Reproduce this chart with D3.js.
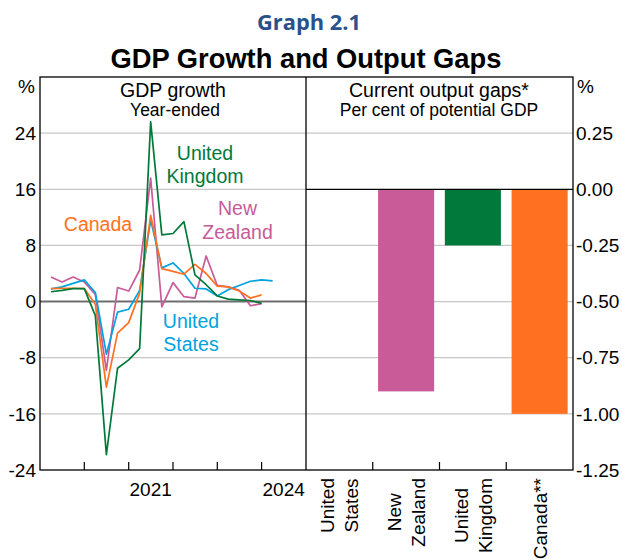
<!DOCTYPE html>
<html><head><meta charset="utf-8">
<script src="https://cdn.jsdelivr.net/npm/d3@7"></script>
<style>body{margin:0;background:#fff} svg{display:block} text{font-family:"Liberation Sans",Arial,sans-serif;fill:#000}</style>
</head><body><svg id="c" width="622" height="560"></svg>
<script>
// ---- data ----
const quarters = ["2019-Q1","2019-Q2","2019-Q3","2019-Q4","2020-Q1","2020-Q2","2020-Q3","2020-Q4",
  "2021-Q1","2021-Q2","2021-Q3","2021-Q4","2022-Q1","2022-Q2","2022-Q3","2022-Q4",
  "2023-Q1","2023-Q2","2023-Q3","2023-Q4","2024-Q1"];
const usGrowth = [1.8, 2.1, 2.6, 3.1, 1.3, -7.5, -1.5, -1.1, 1.6, 11.6, 4.8, 5.5, 4.0, 1.9, 1.8, 0.8, 1.7, 2.3, 2.9, 3.1, 2.95];
const canadaGrowth = [1.85, 1.9, 1.9, 1.85, -0.4, -12.2, -4.5, -3.0, 1.2, 12.3, 4.7, 4.3, 3.9, 5.3, 4.0, 2.2, 2.1, 1.5, 0.5, 0.95, null];
const nzGrowth = [3.5, 2.8, 3.5, 2.8, 1.0, -9.8, 2.0, 1.5, 4.5, 17.6, -0.75, 2.7, 0.7, 0.5, 6.5, 2.3, 2.1, 1.6, -0.6, -0.3, null];
const ukGrowth = [1.4, 1.6, 1.85, 1.85, -2.0, -21.8, -9.5, -8.3, -6.7, 25.6, 9.5, 9.7, 11.4, 3.8, 2.4, 0.8, 0.35, 0.25, 0.15, -0.25, null];
const gapCategories = ["United States", "New Zealand", "United Kingdom", "Canada**"];
const gapValues = [0, -0.9, -0.25, -1.0];
const leftTicks = [24, 16, 8, 0, -8, -16, -24];
const rightTicks = [0.25, 0, -0.25, -0.5, -0.75, -1, -1.25];
const yearLabels = [2021, 2024];

const colors = {us:"#00a3e0", canada:"#ff7121", nz:"#c95b98", uk:"#00793a"};

// ---- layout ----
const svg = d3.select("#c");
const plotTop = 77, plotBottom = 470, lx0 = 40, mid = 306, rx1 = 573;
const x = d3.scaleTime().domain([new Date(2019,0,1), new Date(2025,0,1)]).range([lx0, mid]);
const yL = d3.scaleLinear().domain([-24, 32]).range([plotBottom, plotTop]);
const yR = d3.scaleLinear().domain([-1.25, 0.5]).range([plotBottom, plotTop]);
const xb = d3.scaleBand().domain(gapCategories).range([mid, rx1]).paddingInner(0.16).paddingOuter(0.08);

function qDate(q){ const [y, n] = q.split("-Q"); return new Date(+y, (+n)*3, 1); }

// titles
svg.append("text").attr("x", 309).attr("y", 29.5).attr("text-anchor","middle")
  .style("font-family","'Open Sans',sans-serif").style("font-weight","bold").style("font-size","20.5px")
  .attr("textLength", 104).attr("lengthAdjust","spacingAndGlyphs")
  .style("fill","#2a5189").text("Graph 2.1");
svg.append("text").attr("x", 306).attr("y", 68).attr("text-anchor","middle")
  .style("font-weight","bold").style("font-size","27.3px").text("GDP Growth and Output Gaps");

// gridlines
const grid = svg.append("g");
leftTicks.filter(v => v !== 0 && v !== -24).forEach(v => {
  grid.append("line").attr("x1", lx0).attr("x2", mid).attr("y1", yL(v)).attr("y2", yL(v))
    .attr("stroke","#c8c8c8").attr("stroke-width",1.2);
});
rightTicks.filter(v => v !== 0 && v !== -1.25).forEach(v => {
  grid.append("line").attr("x1", mid).attr("x2", rx1).attr("y1", yR(v)).attr("y2", yR(v))
    .attr("stroke","#c8c8c8").attr("stroke-width",1.2);
});

// bars
const barColor = {"United States":colors.us, "New Zealand":colors.nz, "United Kingdom":colors.uk, "Canada**":colors.canada};
svg.append("g").selectAll("rect").data(gapCategories.map((c,i)=>({c, v:gapValues[i]})).filter(d=>d.v!==0))
  .join("rect")
  .attr("x", d => xb(d.c)).attr("width", xb.bandwidth())
  .attr("y", d => yR(Math.max(0, d.v))).attr("height", d => Math.abs(yR(d.v) - yR(0)))
  .attr("fill", d => barColor[d.c]);

// zero lines
svg.append("line").attr("x1", lx0).attr("x2", mid).attr("y1", yL(0)).attr("y2", yL(0))
  .attr("stroke","#6e6e6e").attr("stroke-width",2);
svg.append("line").attr("x1", mid).attr("x2", rx1).attr("y1", yR(0)).attr("y2", yR(0))
  .attr("stroke","#000").attr("stroke-width",1.2);

// lines
const line = d3.line().defined(d => d.v != null).x(d => x(d.t)).y(d => yL(d.v));
const series = [
  {k:"nz", v:nzGrowth}, {k:"us", v:usGrowth}, {k:"canada", v:canadaGrowth}, {k:"uk", v:ukGrowth}
];
series.forEach(s => {
  svg.append("path").datum(quarters.map((q,i)=>({t:qDate(q), v:s.v[i]})))
    .attr("d", line).attr("fill","none").attr("stroke", colors[s.k]).attr("stroke-width",1.7)
    .attr("stroke-linejoin","round");
});

// frame
svg.append("rect").attr("x", lx0).attr("y", plotTop).attr("width", rx1 - lx0).attr("height", plotBottom - plotTop)
  .attr("fill","none").attr("stroke","#000").attr("stroke-width",1.3);
svg.append("line").attr("x1", mid).attr("x2", mid).attr("y1", plotTop).attr("y2", plotBottom)
  .attr("stroke","#000").attr("stroke-width",1.3);

// x ticks left
const yearTicks = x.ticks(d3.timeYear.every(1)).filter(d => x(d) > lx0 + 1 && x(d) < mid - 1);
yearTicks.forEach(d => {
  svg.append("line").attr("x1", x(d)).attr("x2", x(d)).attr("y1", plotBottom).attr("y2", plotBottom - 8)
    .attr("stroke","#000").attr("stroke-width",1.2);
});
yearLabels.forEach(yv => {
  svg.append("text").attr("x", x(new Date(yv, 6, 1))).attr("y", 496).attr("text-anchor","middle")
    .style("font-size","19px").text(yv);
});
// band ticks right
gapCategories.slice(1).forEach(c => {
  const xx = xb(c) - xb.step() * xb.paddingInner() / 2;
  svg.append("line").attr("x1", xx).attr("x2", xx).attr("y1", plotBottom).attr("y2", plotBottom - 8)
    .attr("stroke","#000").attr("stroke-width",1.2);
});

// y tick labels
leftTicks.forEach(v => {
  svg.append("text").attr("x", 36).attr("y", yL(v)).attr("dy","0.35em").attr("text-anchor","end")
    .style("font-size","19px").text(v);
});
rightTicks.forEach(v => {
  svg.append("text").attr("x", 576).attr("y", yR(v)).attr("dy","0.35em").attr("text-anchor","start")
    .style("font-size","19px").text(d3.format(".2f")(v).replace("\u2212","-"));
});
svg.append("text").attr("x", 35).attr("y", 93).attr("text-anchor","end").style("font-size","19px").text("%");
svg.append("text").attr("x", 577).attr("y", 93).attr("text-anchor","start").style("font-size","19px").text("%");

// panel titles
svg.append("text").attr("x", 173).attr("y", 97).attr("text-anchor","middle").style("font-size","19.5px").text("GDP growth");
svg.append("text").attr("x", 175).attr("y", 115.5).attr("text-anchor","middle").style("font-size","17.5px").text("Year-ended");
svg.append("text").attr("x", 439).attr("y", 97).attr("text-anchor","middle").style("font-size","19.5px").text("Current output gaps*");
svg.append("text").attr("x", 439).attr("y", 115.5).attr("text-anchor","middle").style("font-size","17.5px").text("Per cent of potential GDP");

// series labels
const seriesLabels = [
  {lines:["United","Kingdom"], x:205, y:[159.5,182.5], c:colors.uk},
  {lines:["New","Zealand"], x:237.5, y:[214.5,239], c:colors.nz},
  {lines:["Canada"], x:98, y:[231], c:colors.canada},
  {lines:["United","States"], x:191, y:[327.5,350.5], c:colors.us}
];
seriesLabels.forEach(l => l.lines.forEach((t,i) => {
  svg.append("text").attr("x", l.x).attr("y", l.y[i]).attr("text-anchor","middle")
    .style("font-size","19.5px").style("fill", l.c).text(t);
}));

// rotated category labels
gapCategories.forEach(c => {
  const parts = c.split(" ");
  const cx = xb(c) + xb.bandwidth()/2;
  const g = svg.append("g");
  const texts = parts.map(p => g.append("text").style("font-size","19px").attr("text-anchor","middle").text(p));
  const maxLen = d3.max(texts, t => t.node().getComputedTextLength());
  texts.forEach((t,i) => {
    const px = cx + (i - (parts.length-1)/2) * 24 + 7;
    const py = 478 + maxLen/2;
    t.attr("transform", `translate(${px},${py}) rotate(-90)`);
  });
});
</script></body></html>
